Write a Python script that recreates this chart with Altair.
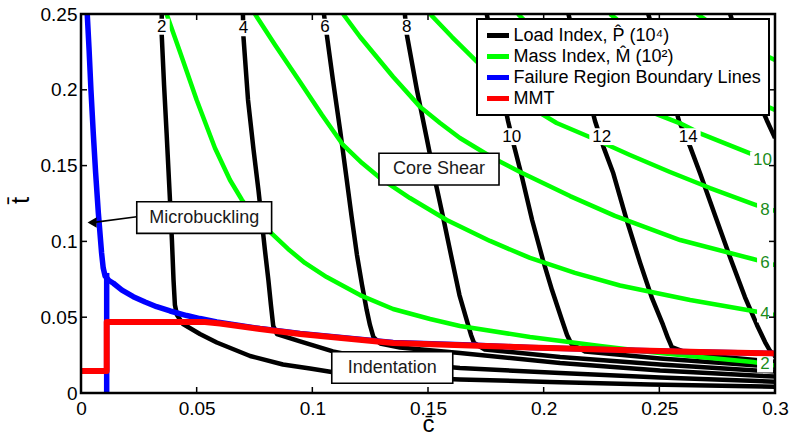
import altair as alt
import pandas as pd

# ---------------- values ----------------
XTICKS = [0, 0.05, 0.1, 0.15, 0.2, 0.25, 0.3]
YTICKS = [0, 0.05, 0.1, 0.15, 0.2, 0.25]
XT_IN = [0.05, 0.1, 0.15, 0.2, 0.25]
YT_IN = [0.05, 0.1, 0.15, 0.2]

SERIES = ["Load Index, P\u0302 (10\u2074)", "Mass Index, M\u0302 (10\u00b2)",
          "Failure Region Boundary Lines", "MMT"]
COLORS = ["#000000", "#00ff00", "#0000ff", "#ff0000"]

# Load index contours (black)
P2_c = [0.0349, 0.0349, 0.0359, 0.0370, 0.0385, 0.0393, 0.0400, 0.0406, 0.0415, 0.0441, 0.0514,
        0.0587, 0.0731, 0.0873, 0.0990, 0.1084, 0.1379, 0.1638, 0.2027, 0.2460, 0.3000]
P2_t = [0.2500, 0.2361, 0.2032, 0.1715, 0.1260, 0.1009, 0.0745, 0.0580, 0.0515, 0.0455, 0.0389,
        0.0333, 0.0244, 0.0188, 0.0162, 0.0139, 0.0106, 0.0089, 0.0073, 0.0056, 0.0042]
P4_c = [0.0700, 0.0702, 0.0722, 0.0746, 0.0767, 0.0782, 0.0795, 0.0810, 0.0821, 0.0831, 0.0847,
        0.0947, 0.1089, 0.1293, 0.1638, 0.2071, 0.2503, 0.3000]
P4_t = [0.2500, 0.2355, 0.1933, 0.1603, 0.1339, 0.1128, 0.0943, 0.0745, 0.0580, 0.0442, 0.0389,
        0.0340, 0.0274, 0.0211, 0.0165, 0.0132, 0.0102, 0.0075]
P6_c = [0.1050, 0.1062, 0.1089, 0.1120, 0.1146, 0.1170, 0.1193, 0.1215, 0.1235, 0.1249, 0.1264,
        0.1293, 0.1379, 0.1638, 0.2071, 0.2503, 0.3000]
P6_t = [0.2500, 0.2368, 0.2065, 0.1735, 0.1438, 0.1161, 0.0910, 0.0712, 0.0547, 0.0449, 0.0369,
        0.0327, 0.0300, 0.0264, 0.0198, 0.0148, 0.0108]
P8_c = [0.1400, 0.1408, 0.1452, 0.1496, 0.1535, 0.1566, 0.1604, 0.1636, 0.1667, 0.1686, 0.1699,
        0.1746, 0.2071, 0.2503, 0.3000]
P8_t = [0.2500, 0.2368, 0.1999, 0.1669, 0.1372, 0.1154, 0.0877, 0.0646, 0.0482, 0.0383, 0.0330,
        0.0287, 0.0237, 0.0188, 0.0141]
P10_c = [0.1754, 0.1800, 0.1846, 0.1872, 0.1902, 0.1950, 0.1997, 0.2036, 0.2079, 0.2101, 0.2120,
         0.2179, 0.2503, 0.3000]
P10_t = [0.2500, 0.2131, 0.1794, 0.1629, 0.1451, 0.1141, 0.0877, 0.0679, 0.0482, 0.0383, 0.0323,
         0.0274, 0.0228, 0.0173]
P12_c = [0.2107, 0.2166, 0.2222, 0.2258, 0.2301, 0.2359, 0.2417, 0.2468, 0.2516, 0.2537, 0.2554,
         0.2633, 0.3000]
P12_t = [0.2500, 0.2131, 0.1794, 0.1625, 0.1449, 0.1141, 0.0858, 0.0627, 0.0449, 0.0363, 0.0303,
         0.0257, 0.0206]
P14_c = [0.2452, 0.2525, 0.2585, 0.2633, 0.2676, 0.2748, 0.2810, 0.2870, 0.2922, 0.2957, 0.2979, 0.3000]
P14_t = [0.2500, 0.2131, 0.1794, 0.1625, 0.1449, 0.1141, 0.0877, 0.0633, 0.0449, 0.0336, 0.0277, 0.0239]
P16_c = [0.2806, 0.2870, 0.2922, 0.2964, 0.3000]
P16_t = [0.2500, 0.2197, 0.1953, 0.1801, 0.1682]

# Mass index contours (green)
M2_c = [0.0370, 0.0428, 0.0500, 0.0579, 0.0644, 0.0696, 0.0756, 0.0826, 0.0895, 0.0968, 0.1062,
        0.1206, 0.1349, 0.1509, 0.1638, 0.1941, 0.2244, 0.2460, 0.2676, 0.2905, 0.3000]
M2_t = [0.2500, 0.2249, 0.1933, 0.1616, 0.1405, 0.1273, 0.1154, 0.1049, 0.0950, 0.0858, 0.0765,
        0.0646, 0.0554, 0.0488, 0.0442, 0.0369, 0.0310, 0.0270, 0.0237, 0.0204, 0.0181]
M4_c = [0.0752, 0.0839, 0.0947, 0.1042, 0.1133, 0.1215, 0.1293, 0.1422, 0.1581, 0.1768, 0.1941,
        0.2135, 0.2330, 0.2633, 0.2905, 0.3000]
M4_t = [0.2500, 0.2296, 0.2052, 0.1834, 0.1636, 0.1517, 0.1418, 0.1286, 0.1141, 0.1003, 0.0891,
        0.0792, 0.0709, 0.0613, 0.0541, 0.0515]
M6_c = [0.1133, 0.1206, 0.1349, 0.1465, 0.1552, 0.1638, 0.1781, 0.1898, 0.2114, 0.2308, 0.2590,
        0.2905, 0.3000]
M6_t = [0.2500, 0.2350, 0.2086, 0.1889, 0.1781, 0.1682, 0.1550, 0.1458, 0.1299, 0.1168, 0.1009,
        0.0884, 0.0844]
M8_c = [0.1509, 0.1604, 0.1711, 0.1833, 0.1941, 0.2056, 0.2229, 0.2373, 0.2546, 0.2719, 0.2918, 0.3000]
M8_t = [0.2500, 0.2348, 0.2186, 0.2012, 0.1887, 0.1781, 0.1669, 0.1570, 0.1458, 0.1352, 0.1240, 0.1201]
M10_c = [0.1889, 0.1984, 0.2114, 0.2287, 0.2460, 0.2590, 0.2676, 0.2892, 0.3000]
M10_t = [0.2500, 0.2355, 0.2177, 0.1992, 0.1856, 0.1779, 0.1713, 0.1581, 0.1517]
M12_c = [0.2287, 0.2417, 0.2590, 0.2762, 0.3000]
M12_t = [0.2500, 0.2342, 0.2164, 0.2025, 0.1867]
M14_c = [0.2663, 0.2784, 0.2892, 0.3000]
M14_t = [0.2500, 0.2375, 0.2276, 0.2197]

# Failure region boundary lines (blue)
BA_c = [0.0027, 0.0035, 0.0043, 0.0053, 0.0063, 0.0075, 0.0089, 0.0096, 0.0104, 0.0121, 0.0140,
        0.0177, 0.0226, 0.0277, 0.0327, 0.0385, 0.0457, 0.0514, 0.0587, 0.0774, 0.0947, 0.1349,
        0.1682, 0.1941, 0.2330, 0.2676, 0.3000]
BA_t = [0.2500, 0.2263, 0.1999, 0.1715, 0.1458, 0.1187, 0.0923, 0.0825, 0.0772, 0.0742, 0.0724,
        0.0679, 0.0635, 0.0600, 0.0569, 0.0541, 0.0511, 0.0491, 0.0468, 0.0425, 0.0392, 0.0333,
        0.0317, 0.0300, 0.0284, 0.0270, 0.0261]
BB_c = [0.0111, 0.0111]
BB_t = [0.0792, 0.0000]

# MMT (red)
R_c = [0.0000, 0.0111, 0.0111, 0.0536, 0.0601, 0.0774, 0.0947, 0.1349, 0.1682, 0.1941, 0.2330,
       0.2676, 0.3000]
R_t = [0.0145, 0.0145, 0.0468, 0.0468, 0.0458, 0.0422, 0.0389, 0.0330, 0.0313, 0.0300, 0.0284,
       0.0270, 0.0261]

# contour labels
BL_text = ["2", "4", "6", "8", "10", "12", "14"]
BL_c = [0.0349, 0.0702, 0.1055, 0.1408, 0.1862, 0.2251, 0.2625]
BL_t = [0.2416, 0.2406, 0.2416, 0.2416, 0.1691, 0.1691, 0.1691]
GL_text = ["10", "8", "6", "4", "2"]
GL_c = [0.2946, 0.2957, 0.2957, 0.2957, 0.2957]
GL_t = [0.1537, 0.1207, 0.0856, 0.0519, 0.0188]

# annotation boxes
BOX_text = ["Microbuckling", "Core Shear", "Indentation"]
BOX_c0 = [0.0241, 0.1288, 0.1084]
BOX_c1 = [0.0824, 0.1807, 0.1607]
BOX_t0 = [0.1053, 0.1372, 0.0064]
BOX_t1 = [0.1262, 0.1581, 0.0272]
ARROW_c = [0.0241, 0.0048]
ARROW_t = [0.1163, 0.1124]

# ---------------- build tables ----------------
def build(series, lines):
    rows = []
    for name, cs, ts in lines:
        for i, (c, t) in enumerate(zip(cs, ts)):
            rows.append({"series": series, "line": name, "i": i, "c": c, "t": t})
    return pd.DataFrame(rows)

load_df = build(SERIES[0], [("P2", P2_c, P2_t), ("P4", P4_c, P4_t), ("P6", P6_c, P6_t),
                            ("P8", P8_c, P8_t), ("P10", P10_c, P10_t), ("P12", P12_c, P12_t),
                            ("P14", P14_c, P14_t), ("P16", P16_c, P16_t)])
mass_df = build(SERIES[1], [("M2", M2_c, M2_t), ("M4", M4_c, M4_t), ("M6", M6_c, M6_t),
                            ("M8", M8_c, M8_t), ("M10", M10_c, M10_t), ("M12", M12_c, M12_t),
                            ("M14", M14_c, M14_t)])
bound_df = build(SERIES[2], [("BA", BA_c, BA_t), ("BB", BB_c, BB_t)])
mmt_df = build(SERIES[3], [("MMT", R_c, R_t)])

WIDE = "M-1.55,-1.05H1.55V1.05H-1.55Z"
lab_df = pd.DataFrame({
    "text": BL_text + GL_text,
    "c": BL_c + GL_c,
    "t": BL_t + GL_t,
    "kind": ["load"] * len(BL_text) + ["mass"] * len(GL_text),
})
lab_df["shape"] = [WIDE if len(s) > 1 else "square" for s in lab_df["text"]]

box_df = pd.DataFrame({"text": BOX_text, "c0": BOX_c0, "c1": BOX_c1, "t0": BOX_t0, "t1": BOX_t1})
box_df["cm"] = (box_df["c0"] + box_df["c1"]) / 2
box_df["tm"] = (box_df["t0"] + box_df["t1"]) / 2
arrow_df = pd.DataFrame({"c0": [ARROW_c[0]], "t0": [ARROW_t[0]], "c1": [ARROW_c[1]], "t1": [ARROW_t[1]]})

FONT = "Liberation Sans"
W, H = 694, 379

x_axis = alt.Axis(values=XTICKS, format=".2~f", title="c\u0304", grid=False, ticks=False, tickSize=0,
                  domain=False, labelFlush=False, labelOverlap=False, labelFont=FONT, labelFontSize=19,
                  labelColor="black", labelPadding=6, titleFont=FONT, titleFontSize=24,
                  titleFontWeight="normal", titleColor="black", titleX=347, titleY=31,
                  titleBaseline="middle", titleAlign="center")
y_axis = alt.Axis(values=YTICKS, format=".2~f", title="t\u0304", grid=False, ticks=False, tickSize=0,
                  domain=False, labelFlush=False, labelOverlap=False, labelFont=FONT, labelFontSize=19,
                  labelColor="black", labelPadding=4, titleFont=FONT, titleFontSize=26,
                  titleFontWeight="normal", titleColor="black", titleX=-61, titleY=186,
                  titleAngle=270, titleBaseline="middle", titleAlign="center")
x_scale = alt.Scale(domain=[0, 0.3], nice=False, zero=False)
y_scale = alt.Scale(domain=[0, 0.25], nice=False, zero=False)


def X(f):
    return alt.X(f"{f}:Q", scale=x_scale, axis=x_axis)


def Y(f):
    return alt.Y(f"{f}:Q", scale=y_scale, axis=y_axis)


color = alt.Color("series:N", scale=alt.Scale(domain=SERIES, range=COLORS),
                  legend=alt.Legend(orient="none", legendX=396, legendY=5, title=None,
                                    fillColor="white", strokeColor="black", padding=7.5,
                                    labelFont=FONT, labelFontSize=18, labelColor="black",
                                    labelLimit=400, labelOffset=2, symbolType="stroke",
                                    symbolSize=484, symbolStrokeWidth=5, clipHeight=18,
                                    rowPadding=3, zindex=1))


def line_layer(df, w):
    return alt.Chart(df).mark_line(strokeWidth=w, clip=True, strokeJoin="round").encode(
        x=X("c"), y=Y("t"), color=color, detail="line:N", order=alt.Order("i:Q"))


layers = [
    line_layer(load_df, 4.5),
    line_layer(mass_df, 4.5),
    line_layer(bound_df, 5.5),
    line_layer(mmt_df, 6),
    alt.Chart(lab_df).mark_point(filled=True, color="white", opacity=1, size=256, strokeWidth=0).encode(
        x=X("c"), y=Y("t"), shape=alt.Shape("shape:N", scale=None)),
    alt.Chart(lab_df[lab_df["kind"] == "load"]).mark_text(font=FONT, fontSize=17, color="black",
                                                          baseline="middle").encode(
        x=X("c"), y=Y("t"), text="text:N"),
    alt.Chart(lab_df[lab_df["kind"] == "mass"]).mark_text(font=FONT, fontSize=17, color="#1a8c1a",
                                                          baseline="middle").encode(
        x=X("c"), y=Y("t"), text="text:N"),
    alt.Chart(box_df).mark_rect(fill="white", stroke="black", strokeWidth=1.6).encode(
        x=X("c0"), x2="c1", y=Y("t0"), y2="t1"),
    alt.Chart(box_df).mark_text(font=FONT, fontSize=18, color="#1a1a1a", baseline="middle").encode(
        x=X("cm"), y=Y("tm"), text="text:N"),
    alt.Chart(arrow_df).mark_rule(strokeWidth=1.6, color="black").encode(
        x=X("c0"), y=Y("t0"), x2="c1", y2="t1"),
    alt.Chart(arrow_df).mark_point(shape="triangle-left", filled=True, color="black", size=110,
                                   opacity=1).encode(x=X("c1"), y=Y("t1")),
    # inward ticks on all four sides
    alt.Chart(pd.DataFrame({"v": XT_IN})).mark_rule(strokeWidth=1.5, color="black").encode(
        x=X("v"), y=alt.value(H), y2=alt.value(H - 6)),
    alt.Chart(pd.DataFrame({"v": XT_IN})).mark_rule(strokeWidth=1.5, color="black").encode(
        x=X("v"), y=alt.value(0), y2=alt.value(6)),
    alt.Chart(pd.DataFrame({"v": YT_IN})).mark_rule(strokeWidth=1.5, color="black").encode(
        y=Y("v"), x=alt.value(0), x2=alt.value(6)),
    alt.Chart(pd.DataFrame({"v": YT_IN})).mark_rule(strokeWidth=1.5, color="black").encode(
        y=Y("v"), x=alt.value(W), x2=alt.value(W - 6)),
    # box frame
    alt.Chart(pd.DataFrame({"a": [0]})).mark_rect(fillOpacity=0, stroke="black", strokeWidth=2.5).encode(
        x=alt.value(0), x2=alt.value(W), y=alt.value(0), y2=alt.value(H)),
]

chart = alt.layer(*layers).properties(
    width=W, height=H,
    autosize=alt.AutoSizeParams(type="none"),
    padding={"left": 81, "top": 14, "right": 15, "bottom": 45},
    background="white",
).configure_view(stroke=None).configure_legend(strokeWidth=2)

chart.save("out.html", embed_options={"renderer": "svg", "actions": False})
